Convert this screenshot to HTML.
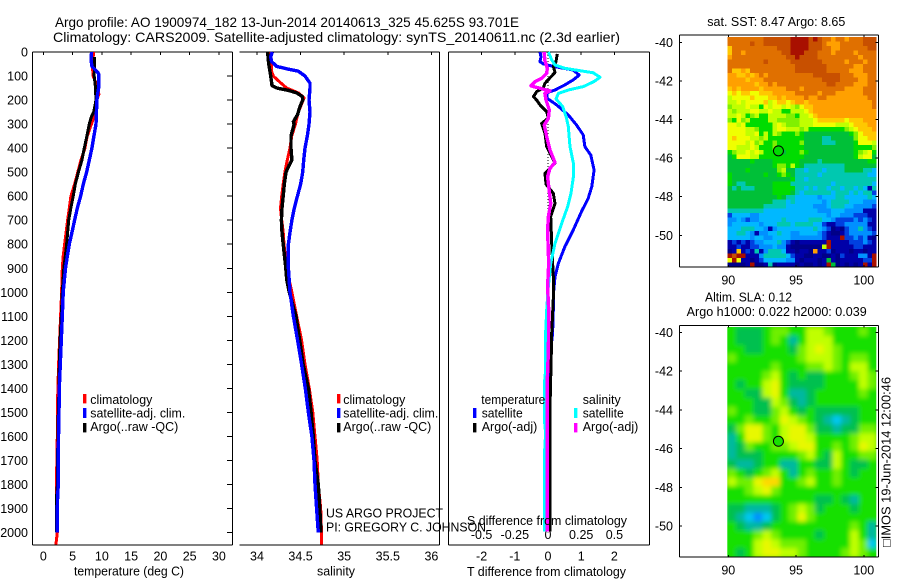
<!DOCTYPE html>
<html>
<head>
<meta charset="utf-8">
<title>Argo profile</title>
<style>
html,body{margin:0;padding:0;background:#fff;width:900px;height:580px;overflow:hidden}
svg{display:block}
text{font-family:"Liberation Sans",sans-serif;font-size:12.5px;fill:#000}
</style>
</head>
<body>
<svg id="chart" xmlns="http://www.w3.org/2000/svg" width="900" height="580" viewBox="0 0 900 580">
<defs>
<filter id="sla-blur" x="-5%" y="-5%" width="110%" height="110%"><feGaussianBlur stdDeviation="2.3"/></filter>
<clipPath id="sla-clip"><rect x="727.3" y="327" width="149" height="230"/></clipPath>
</defs>
<g id="sst-map"></g>
<g id="sla-clipper" clip-path="url(#sla-clip)"><g id="sla-map" filter="url(#sla-blur)"></g></g>
<g id="axes"></g>
<g id="lines"></g>

<text x="55" y="27" textLength="464" lengthAdjust="spacingAndGlyphs" style="font-size:14px">Argo profile: AO 1900974_182 13-Jun-2014 20140613_325 45.625S 93.701E</text>
<text x="53" y="42" textLength="567" lengthAdjust="spacingAndGlyphs" style="font-size:14px">Climatology: CARS2009. Satellite-adjusted climatology: synTS_20140611.nc (2.3d earlier)</text>

<text x="74" y="575.5" textLength="110" lengthAdjust="spacingAndGlyphs">temperature (deg C)</text>
<text x="317" y="575.5" textLength="38" lengthAdjust="spacingAndGlyphs">salinity</text>
<text x="467" y="576" textLength="159" lengthAdjust="spacingAndGlyphs">T difference from climatology</text>
<text x="467" y="525" textLength="160" lengthAdjust="spacingAndGlyphs">S difference from climatology</text>

<g>
<rect x="83" y="394" width="3.4" height="9.4" fill="#f00"/>
<rect x="83" y="408" width="3.4" height="10" fill="#00f"/>
<rect x="83" y="423" width="3.4" height="9.4" fill="#000"/>
<text x="90.3" y="404" textLength="62" lengthAdjust="spacingAndGlyphs">climatology</text>
<text x="90.3" y="417.3" textLength="95" lengthAdjust="spacingAndGlyphs">satellite-adj. clim.</text>
<text x="90.3" y="431" textLength="88" lengthAdjust="spacingAndGlyphs">Argo(..raw -QC)</text>
</g>
<g>
<rect x="337" y="394" width="3.4" height="9.4" fill="#f00"/>
<rect x="337" y="408" width="3.4" height="10" fill="#00f"/>
<rect x="337" y="423" width="3.4" height="9.4" fill="#000"/>
<text x="343.3" y="404" textLength="62" lengthAdjust="spacingAndGlyphs">climatology</text>
<text x="343.3" y="417.3" textLength="95" lengthAdjust="spacingAndGlyphs">satellite-adj. clim.</text>
<text x="343.3" y="431" textLength="88" lengthAdjust="spacingAndGlyphs">Argo(..raw -QC)</text>
</g>
<g>
<text x="481.3" y="404" textLength="64" lengthAdjust="spacingAndGlyphs">temperature</text>
<text x="582.7" y="404" textLength="38" lengthAdjust="spacingAndGlyphs">salinity</text>
<rect x="473" y="408" width="3.4" height="10" fill="#00f"/>
<rect x="473" y="423" width="3.4" height="9.4" fill="#000"/>
<rect x="574" y="408" width="3.4" height="10" fill="#0ff"/>
<rect x="574" y="423" width="3.4" height="9.4" fill="#f0f"/>
<text x="481.7" y="417.3" textLength="41" lengthAdjust="spacingAndGlyphs">satellite</text>
<text x="481.7" y="431" textLength="55.6" lengthAdjust="spacingAndGlyphs">Argo(-adj)</text>
<text x="582.7" y="417.3" textLength="41" lengthAdjust="spacingAndGlyphs">satellite</text>
<text x="582.7" y="431" textLength="55.6" lengthAdjust="spacingAndGlyphs">Argo(-adj)</text>
</g>

<text x="326" y="517.7" textLength="117" lengthAdjust="spacingAndGlyphs">US ARGO PROJECT</text>
<text x="326" y="531.7" textLength="160" lengthAdjust="spacingAndGlyphs">PI: GREGORY C. JOHNSON</text>

<text x="707.3" y="26" textLength="138" lengthAdjust="spacingAndGlyphs">sat. SST: 8.47 Argo: 8.65</text>
<text x="705" y="301.7" textLength="87" lengthAdjust="spacingAndGlyphs">Altim. SLA: 0.12</text>
<text x="686.7" y="316" textLength="180" lengthAdjust="spacingAndGlyphs">Argo h1000: 0.022 h2000: 0.039</text>
<text transform="rotate(-90 890.7 547)" x="890.7" y="547" textLength="170" lengthAdjust="spacingAndGlyphs">□IMOS 19-Jun-2014 12:00:46</text>
</svg>

<script>
// ---- profile data ----
const tClimDepth = [0,50,100,130,175,200,280,350,400,450,500,550,600,650,700,800,850,900,1000,1100,1200,1300,1400,1500,1600,1700,1800,2000,2050];
const tClimValues = [8.6,8.37,8.5,9.0,9.5,9.1,8.5,7.5,7.1,6.43,5.9,5.35,4.72,4.44,4.15,3.64,3.4,3.25,3.13,2.96,2.79,2.62,2.5,2.39,2.39,2.33,2.22,2.39,2.16];
const tSatDepth = [0,30,60,80,90,150,175,200,300,350,400,450,500,550,600,650,700,750,800,850,900,1000,1100,1200,1300,1400,1500,1600,1700,1800,1850,1900,2000];
const tSatValues = [8.25,8.14,8.3,9.1,9.45,9.45,9.28,9.16,9.0,8.65,8.3,7.85,7.4,6.83,6.37,5.8,5.35,4.9,4.44,4.1,3.8,3.4,3.25,3.07,2.9,2.73,2.68,2.6,2.56,2.56,2.45,2.4,2.4];
const tArgoDepth = [20,100,140,200,250,270,300,350,400,450,500,550,600,650,700,800,850,900,1000,1100,1200,1300,1400,1500,1600,1700,1800,1850,2000];
const tArgoValues = [8.77,8.7,8.88,9.0,8.6,8.2,7.85,7.45,7.0,6.6,6.0,5.46,5.1,4.7,4.33,3.98,3.76,3.5,3.25,3.07,2.85,2.73,2.68,2.56,2.5,2.45,2.4,2.28,2.28];

const sClimDepth = [0,50,80,100,120,150,170,190,250,300,350,400,450,500,550,600,650,700,750,800,900,1000,1100,1200,1300,1400,1500,1600,1700,1800,1900,2000,2050];
const sClimValues = [34.14,34.17,34.168,34.187,34.245,34.34,34.474,34.54,34.474,34.44,34.398,34.379,34.348,34.32,34.3,34.283,34.27,34.283,34.3,34.31,34.34,34.4,34.455,34.512,34.55,34.6,34.64,34.665,34.69,34.703,34.73,34.74,34.74];
const sSatDepth = [0,20,40,60,70,80,100,130,150,200,250,300,350,400,450,500,550,600,650,700,750,800,900,1000,1100,1200,1300,1400,1500,1600,1700,1800,1900,2000];
const sSatValues = [34.176,34.157,34.168,34.226,34.34,34.474,34.55,34.608,34.608,34.596,34.608,34.596,34.577,34.55,34.535,34.524,34.5,34.463,34.428,34.4,34.378,34.36,34.36,34.378,34.417,34.466,34.512,34.554,34.589,34.63,34.654,34.665,34.684,34.703];
const sArgoDepth = [0,50,100,140,150,160,170,185,200,230,260,290,300,350,400,450,470,500,550,600,650,700,750,800,900,950,1000,1100,1200,1300,1400,1500,1600,1700,1800,1900,2000];
const sArgoValues = [34.122,34.134,34.157,34.172,34.226,34.36,34.455,34.52,34.524,34.49,34.466,34.417,34.425,34.39,34.39,34.4,34.37,34.333,34.313,34.3,34.287,34.28,34.287,34.3,34.33,34.342,34.37,34.447,34.49,34.53,34.59,34.62,34.646,34.665,34.703,34.72,34.734];

const dTSatDepth = [0,20,40,50,60,75,96,116,137,158,170,193,220,262,304,345,394,429,491,560,609,664,741,810,880,935,1000,1074,1171,1240,1365,1587,1996];
const dTSatValues = [-0.24,-0.21,-0.24,-0.14,0.16,0.76,0.94,0.76,0.51,0.21,-0.04,-0.02,0.26,0.61,0.86,1.06,1.11,1.29,1.39,1.32,1.21,1.01,0.76,0.51,0.31,0.21,0.17,0.16,0.14,0.08,0.04,0.06,0.06];
const dTArgoDepth = [8,40,60,85,100,130,150,165,186,200,220,248,275,297,340,394,463,505,550,588,630,685,796,935,1000,1171,1309,1476,1656,1996];
const dTArgoValues = [0.28,0.24,0.16,0.21,0.11,-0.09,-0.14,-0.34,-0.44,-0.34,-0.24,-0.04,0.01,-0.19,-0.09,-0.04,0.21,-0.09,-0.06,0.16,0.21,0.08,0.11,0.16,0.17,0.11,0.09,0.06,0.06,0.06];
const dSSatDepth = [0,33,54,68,78,86,105,123,144,158,172,195,227,269,310,394,463,519,588,643,713,796,880,990,1074,1171,1337,1365,1545,1587,1656,1996];
const dSSatValues = [0.003,0.028,0.053,0.128,0.241,0.339,0.392,0.346,0.266,0.153,0.078,0.06,0.11,0.136,0.153,0.166,0.191,0.191,0.173,0.148,0.103,0.053,0.02,0,-0.01,-0.018,-0.02,-0.025,-0.025,-0.018,-0.025,-0.025];
const dSArgoDepth = [0,33,68,89,110,123,141,151,162,172,200,241,276,304,352,408,460,484,519,574,630,685,741,880,977,1074,1240,1365,1545,1656,1996];
const dSArgoValues = [-0.028,-0.025,-0.005,-0.01,-0.048,-0.098,-0.128,-0.06,0.015,-0.023,-0.015,0.01,0.003,-0.028,-0.01,0.015,0.053,0.015,-0.003,0.008,0.02,0.003,-0.003,0.005,-0.003,0.005,0.003,-0.005,-0.005,-0.005,-0.005];

// ---- tick labels ----
const depthTicks = [0,100,200,300,400,500,600,700,800,900,1000,1100,1200,1300,1400,1500,1600,1700,1800,1900,2000];
const tempTicks = [0,5,10,15,20,25,30];
const salTicks = [34,34.5,35,35.5,36];
const dTTicks = [-2,-1,0,1,2];
const dSTicks = [-0.5,-0.25,0,0.25,0.5];
const latTicks = [-40,-42,-44,-46,-48,-50];
const lonTicks = [90,95,100];

// ---- map data: colour-scale level per cell ----
const mapPalette = ["#000088","#0000a8","#0040e0","#0090ff","#00b8ff","#00c8b0","#00c038","#00dc00","#80f000","#c0ff00","#f0ff00","#ffc800","#ffa000","#e07000","#c85000","#a81000"];
const slaPalette = ["#00008c","#0000c8","#0050f0","#0090ff","#00c8f0","#00b8a0","#00c050","#18e000","#70f000","#c0ff00","#e8f800","#ffd800","#ffa000","#e07000","#c85000","#a81000"];
const sstRows = [
[13,13,13,13,13,13,13,13,14,14,14,14,14,14,15,15,15,15,14,15,14,13,13,12,13,13,12,13,13,13,14,14,14],
[13,13,13,13,13,14,13,13,14,14,14,14,14,14,15,15,15,15,14,14,14,13,12,12,12,13,13,13,13,13,14,14,14],
[11,13,13,13,13,13,13,13,13,13,13,14,14,14,15,15,15,15,14,14,14,13,13,12,12,13,13,13,13,13,13,14,14],
[11,13,13,12,13,13,13,13,13,13,13,13,14,14,15,15,15,14,14,14,13,13,13,12,13,13,13,13,12,13,13,13,13],
[12,13,13,13,13,13,13,13,13,13,13,13,13,14,14,15,14,14,14,14,13,13,13,13,13,13,13,13,13,12,13,13,13],
[13,13,13,13,13,13,13,13,14,13,13,13,13,13,14,14,14,14,14,14,14,13,13,13,13,13,12,13,13,13,12,13,13],
[13,13,13,13,13,13,13,13,13,13,13,13,13,13,13,14,14,14,14,14,14,14,13,13,13,13,13,13,12,12,13,13,13],
[13,11,11,12,11,13,13,13,13,13,13,13,13,13,13,14,14,14,14,14,14,14,13,13,13,13,13,12,12,12,13,13,13],
[12,12,11,11,12,11,12,13,12,13,13,13,13,13,13,13,13,13,13,14,14,14,14,14,14,13,13,13,12,12,12,13,13],
[12,12,12,12,11,12,12,12,13,13,13,13,13,13,13,13,13,13,13,13,13,14,14,14,14,13,13,13,13,12,12,13,13],
[12,12,12,12,12,12,11,12,12,13,12,13,13,13,13,13,13,13,13,13,13,13,14,14,13,13,13,13,12,12,12,13,13],
[11,12,11,12,12,12,12,11,12,12,12,12,12,13,13,13,12,13,13,13,13,13,13,13,13,13,12,12,12,12,13,13,13],
[10,11,10,11,11,10,10,11,11,11,12,12,12,12,12,13,13,13,13,13,12,13,13,13,12,12,12,12,12,12,13,13,13],
[9,10,10,10,10,11,10,10,10,11,11,12,11,12,12,12,12,13,12,12,13,13,12,12,12,12,12,12,12,12,12,13,13],
[9,9,10,9,10,10,10,10,11,9,10,11,11,10,11,12,12,11,12,12,12,12,12,12,12,12,12,12,12,12,12,12,13],
[8,9,9,9,10,9,9,7,10,9,10,10,9,10,9,8,10,11,11,12,12,12,12,12,12,12,12,12,12,12,12,12,13],
[9,8,9,9,9,10,10,9,9,10,9,9,7,7,9,9,9,10,11,12,12,12,12,12,12,12,12,12,12,12,12,12,12],
[9,9,10,9,7,8,9,7,7,9,9,9,9,8,8,7,9,9,10,11,12,12,12,12,12,12,12,12,12,12,12,12,12],
[8,7,10,8,9,7,7,7,7,9,9,8,8,8,8,8,9,9,9,10,11,11,11,11,11,11,10,11,11,11,12,12,12],
[10,10,9,10,7,7,7,7,7,7,9,10,9,8,8,8,9,9,9,10,10,10,10,10,9,9,9,10,11,11,11,12,12],
[10,10,10,10,9,9,8,7,7,7,9,10,10,9,9,9,8,9,7,7,7,7,7,7,7,7,8,9,10,11,11,11,12],
[10,10,10,10,9,9,10,7,9,7,9,8,7,7,7,8,7,6,6,6,6,6,6,6,6,6,6,7,8,10,11,11,11],
[10,11,10,10,10,9,9,8,9,7,7,7,7,7,7,7,7,6,6,6,6,5,5,6,6,6,6,6,8,10,10,11,11],
[10,10,10,10,9,10,8,9,7,7,8,7,7,7,7,7,8,6,6,6,6,5,5,5,6,6,6,6,7,10,10,10,9],
[10,10,9,9,9,10,9,7,7,7,8,7,7,7,7,7,7,6,6,6,6,6,6,6,6,6,6,6,7,7,7,7,8],
[7,8,9,9,10,9,10,9,7,7,7,7,6,7,7,7,8,7,6,6,6,6,6,6,6,6,6,6,7,8,9,10,7],
[6,7,10,10,10,9,9,7,7,7,7,7,7,7,7,7,7,6,6,6,6,6,6,6,6,6,6,6,7,9,10,10,6],
[6,6,6,6,6,7,6,6,6,6,7,7,7,7,7,7,6,6,6,6,5,6,6,6,6,6,6,6,6,6,6,7,7],
[6,6,6,6,6,6,6,6,6,6,7,8,8,7,9,7,6,5,5,5,5,5,5,5,5,5,6,6,6,6,6,6,6],
[6,6,6,6,7,6,6,6,6,6,6,8,9,6,6,5,5,4,5,5,5,4,5,5,5,5,6,6,6,6,5,5,4],
[7,6,6,6,6,6,6,6,7,6,6,7,8,7,6,5,5,5,5,5,4,5,5,5,5,5,5,5,5,5,5,4,4],
[7,6,6,6,6,6,6,6,6,6,6,6,6,6,7,5,5,4,5,5,5,5,5,5,5,5,5,5,5,5,5,5,5],
[7,6,5,5,6,6,6,6,6,6,7,7,7,7,5,5,5,5,5,5,5,5,5,4,5,5,5,5,5,5,5,5,4],
[6,5,6,5,5,5,6,6,6,6,7,7,7,7,7,5,5,4,5,4,5,5,4,5,5,4,5,5,4,5,4,1,5],
[6,6,6,6,6,6,6,6,6,6,7,7,7,7,6,5,4,5,5,5,5,5,5,4,5,5,5,4,5,4,5,5,2],
[6,6,6,6,6,6,6,6,6,6,6,7,6,5,5,4,4,4,4,4,3,4,4,4,5,5,4,4,4,4,4,5,4],
[6,6,6,6,6,6,6,6,6,6,5,5,5,4,5,4,4,4,4,4,4,3,4,5,5,5,5,4,4,4,3,3,3],
[6,6,6,6,6,6,6,6,5,5,5,5,5,4,4,4,4,4,4,3,3,3,4,5,5,5,4,4,3,3,3,3,2],
[5,5,5,5,5,5,5,5,4,4,4,4,4,4,4,4,4,4,4,4,3,3,3,4,4,4,3,3,3,3,1,1,1],
[2,4,4,4,4,3,3,4,4,4,4,4,4,4,4,4,4,4,4,4,4,4,3,4,4,3,3,3,2,2,2,1,1],
[3,3,4,3,2,3,3,4,4,4,4,4,5,4,4,4,4,4,5,5,5,4,4,3,2,2,2,2,3,2,3,2,1],
[3,4,4,4,4,4,4,3,4,4,4,5,5,5,4,5,5,5,5,4,4,2,1,1,2,2,3,3,3,3,3,1,1],
[4,4,4,5,5,5,4,4,3,1,3,4,4,4,4,4,4,4,4,5,4,3,2,0,1,0,2,3,3,5,3,2,1],
[4,4,5,5,4,3,1,3,3,4,4,5,4,4,3,3,4,4,4,4,3,2,1,0,0,1,2,3,3,3,3,3,2],
[4,4,4,4,4,3,4,4,3,3,4,4,4,4,3,3,3,3,3,3,3,2,1,1,1,15,2,2,3,2,3,1,0],
[1,2,1,2,1,2,3,3,4,4,4,5,3,2,1,0,1,1,1,1,1,1,15,1,1,1,1,2,2,2,3,2,1],
[1,1,2,1,1,2,2,3,3,3,4,3,3,1,0,0,0,0,0,0,0,9,15,1,1,1,1,1,2,2,1,1,1],
[0,1,11,1,2,1,5,1,3,5,5,5,4,1,1,0,1,1,0,12,1,1,2,0,1,1,1,0,1,1,0,1,1],
[15,14,15,15,1,1,1,3,5,5,5,5,5,4,2,1,1,0,0,1,1,0,0,1,0,2,1,1,1,3,3,1,15],
[10,15,10,1,1,0,1,2,4,4,4,4,4,3,3,1,0,1,1,1,0,1,6,1,0,1,1,1,1,1,2,2,15],
[0,0,0,0,1,15,0,0,1,5,0,1,1,1,1,0,1,0,0,1,0,1,15,6,0,1,0,1,0,1,15,1,15]
];
const slaRows = [
[7,6,6,6,7,8,8,7,7,9,9,8,7,7,7,8,7],
[7,6,6,6,7,8,7,5,7,9,9,9,7,7,7,7,7],
[7,7,6,6,7,7,7,6,8,9,10,9,8,7,7,7,7],
[8,7,7,7,7,7,7,7,8,9,9,9,8,7,8,8,7],
[7,7,7,7,7,8,7,7,7,8,8,9,8,7,9,9,7],
[7,7,7,7,8,9,7,6,7,6,6,7,7,7,8,9,8],
[7,6,7,7,9,10,7,6,6,6,6,7,7,7,7,9,8],
[7,7,6,6,9,10,7,5,5,6,7,7,7,7,7,8,7],
[7,7,7,6,6,9,8,6,5,6,7,7,7,7,7,7,7],
[8,7,7,6,6,8,9,7,6,7,6,6,6,6,6,7,7],
[7,7,8,7,7,8,10,9,8,7,6,5,4,5,6,7,7],
[6,8,10,10,8,7,9,10,10,8,6,6,5,6,6,8,8],
[5,7,10,10,8,7,9,10,10,9,7,7,7,7,8,9,9],
[5,6,8,7,7,8,8,9,10,10,7,7,8,7,8,10,9],
[5,6,6,6,7,7,7,7,8,9,7,6,9,7,7,8,8],
[6,5,5,6,7,7,5,5,7,7,6,6,9,7,6,6,7],
[8,7,6,7,8,9,7,5,7,8,7,7,8,7,6,7,7],
[9,8,8,10,11,11,7,7,8,9,7,7,8,7,7,7,7],
[7,7,8,9,10,8,7,7,7,7,7,7,7,7,7,7,7],
[7,7,7,7,7,7,7,7,7,7,6,6,7,6,5,7,7],
[6,6,5,5,5,6,7,8,9,8,6,7,7,7,6,7,7],
[6,5,4,3,4,6,7,8,10,8,7,7,7,7,7,7,7],
[7,6,5,5,6,7,7,7,7,7,7,7,7,7,8,7,5],
[7,7,7,8,9,8,7,7,7,7,6,7,7,7,9,7,5],
[7,7,7,9,10,9,8,8,8,7,7,7,7,7,9,8,4],
[7,6,7,9,10,10,9,9,8,7,7,7,7,8,9,8,7]
];
const argoLon = 93.701;
const argoLat = -45.625;

// ---- scales ----
const yDepth = d => 52 + 0.2403 * d;
const xTemp = t => 43.3 + 5.855 * t;
const xSal = s => 257 + 87.2 * (s - 34);
const xDT = t => 548 + 33.2 * t;
const xDS = s => xDT(s * 4);
const xLon = lon => 728.3 + 13.55 * (lon - 90);
const yLatTop = lat => 42.3 + 19.3 * (-lat - 40);
const yLatBottom = lat => 332.3 + 19.37 * (-lat - 40);

const NS = 'http://www.w3.org/2000/svg';
function mk(parent, tag, name, props) {
  const el = document.createElementNS(NS, tag);
  
  
  for (const k in props) el.setAttribute(k, props[k]);
  parent.appendChild(el);
  return el;
}
const axes = document.getElementById('axes');
const lines = document.getElementById('lines');

function seg(name, x1, y1, x2, y2) {
  mk(axes, 'line', name, {x1, y1, x2, y2, stroke: '#000', 'stroke-width': 1, 'shape-rendering': 'crispEdges'});
}
function label(name, x, y, txt, anchor) {
  const t = mk(axes, 'text', name, {x, y, 'text-anchor': anchor});
  t.textContent = txt;
}

// ---- profile panels ----
function frame(left, right, top, bottom, hasLeft) {
  seg('axis-top', left, top, right, top);
  seg('axis-bottom', left, bottom, right, bottom);
  seg('axis-right', right, top, right, bottom);
  if (hasLeft) seg('axis-left', left, top, left, bottom);
}
frame(32.5, 232.3, 52, 545, true);
frame(239.3, 439.3, 52, 545, false);
frame(448.3, 649.7, 52, 545, true);

depthTicks.forEach(d => {
  const y = yDepth(d);
  label('depth-tick-label', 28, y + 4.5, String(d), 'end');
  seg('depth-tick', 227, y, 232.3, y);
});
tempTicks.forEach(t => {
  seg('temperature-tick', xTemp(t), 52, xTemp(t), 55);
  label('temperature-tick-label', xTemp(t), 560.7, String(t), 'middle');
});
salTicks.forEach(s => {
  seg('salinity-tick', xSal(s), 52, xSal(s), 55);
  label('salinity-tick-label', xSal(s), 560.7, String(s), 'middle');
});
dTTicks.forEach(t => {
  seg('t-difference-tick', xDT(t), 52, xDT(t), 55);
  label('t-difference-tick-label', xDT(t), 560.7, String(t), 'middle');
});
dSTicks.forEach(s => {
  label('s-difference-tick-label', xDS(s), 539, String(s), 'middle');
});

function profile(name, depth, values, xf, color, width) {
  const pts = depth.map((d, i) => xf(values[i]).toFixed(1) + ',' + yDepth(d).toFixed(1)).join(' ');
  mk(lines, 'polyline', name, {points: pts, fill: 'none', stroke: color, 'stroke-width': width, 'stroke-linejoin': 'round', 'shape-rendering': 'crispEdges'});
}
profile('temperature-climatology-line', tClimDepth, tClimValues, xTemp, '#f00', 3);
profile('temperature-argo-line', tArgoDepth, tArgoValues, xTemp, '#000', 3);
profile('temperature-satellite-line', tSatDepth, tSatValues, xTemp, '#00f', 3.4);
profile('salinity-climatology-line', sClimDepth, sClimValues, xSal, '#f00', 3);
profile('salinity-argo-line', sArgoDepth, sArgoValues, xSal, '#000', 3.4);
profile('salinity-satellite-line', sSatDepth, sSatValues, xSal, '#00f', 3.4);

mk(lines, 'line', 'zero-difference-line', {x1: xDT(0), y1: yDepth(0), x2: xDT(0), y2: yDepth(2000), stroke: '#000', 'stroke-width': 1, 'stroke-dasharray': '1 2', 'shape-rendering': 'crispEdges'});
profile('t-difference-satellite-line', dTSatDepth, dTSatValues, xDT, '#00f', 3);
profile('t-difference-argo-line', dTArgoDepth, dTArgoValues, xDT, '#000', 3);
profile('s-difference-satellite-line', dSSatDepth, dSSatValues, xDS, '#0ff', 3);
profile('s-difference-argo-line', dSArgoDepth, dSArgoValues, xDS, '#f0f', 3.4);

// ---- maps ----
const sstGroup = document.getElementById('sst-map');
const sstCellW = 149 / sstRows[0].length;
const sstCellH = 230 / sstRows.length;
sstRows.forEach((row, r) => row.forEach((v, c) => {
  mk(sstGroup, 'rect', 'sst-cell', {x: (727.3 + c * sstCellW).toFixed(2), y: (37 + r * sstCellH).toFixed(2), width: (sstCellW + 0.4).toFixed(2), height: (sstCellH + 0.4).toFixed(2), fill: mapPalette[v], 'shape-rendering': 'crispEdges'});
}));

const slaGroup = document.getElementById('sla-map');
const slaCellW = 149 / slaRows[0].length;
const slaCellH = 230 / slaRows.length;
mk(slaGroup, 'rect', 'sla-background', {x: 715, y: 315, width: 175, height: 255, fill: slaPalette[7]});
slaRows.forEach((row, r) => row.forEach((v, c) => {
  mk(slaGroup, 'rect', 'sla-cell', {x: (727.3 + c * slaCellW).toFixed(2), y: (327 + r * slaCellH).toFixed(2), width: (slaCellW + 0.4).toFixed(2), height: (slaCellH + 0.4).toFixed(2), fill: slaPalette[v]});
}));

function mapFrame(top, bottom, yLat, xLabelY) {
  frame(679.3, 878.3, top, bottom, true);
  latTicks.forEach(lat => {
    const y = yLat(lat);
    seg('latitude-tick', 679.3, y, 682, y);
    seg('latitude-tick', 875.5, y, 878.3, y);
    label('latitude-tick-label', 673, y + 4.5, String(lat), 'end');
  });
  lonTicks.forEach(lon => {
    seg('longitude-tick', xLon(lon), top, xLon(lon), top + 2);
    seg('longitude-tick', xLon(lon), bottom - 2, xLon(lon), bottom);
    label('longitude-tick-label', xLon(lon), xLabelY, String(lon), 'middle');
  });
}
mapFrame(35, 267, yLatTop, 284.3);
mapFrame(325.7, 557, yLatBottom, 574.3);

mk(axes, 'circle', 'argo-position-marker-sst', {cx: xLon(argoLon), cy: yLatTop(argoLat), r: 5, fill: mapPalette[7], stroke: '#000', 'stroke-width': 1});
mk(axes, 'circle', 'argo-position-marker-sla', {cx: xLon(argoLon), cy: yLatBottom(argoLat), r: 5, fill: slaPalette[7], stroke: '#000', 'stroke-width': 1});
</script>
</body>
</html>
